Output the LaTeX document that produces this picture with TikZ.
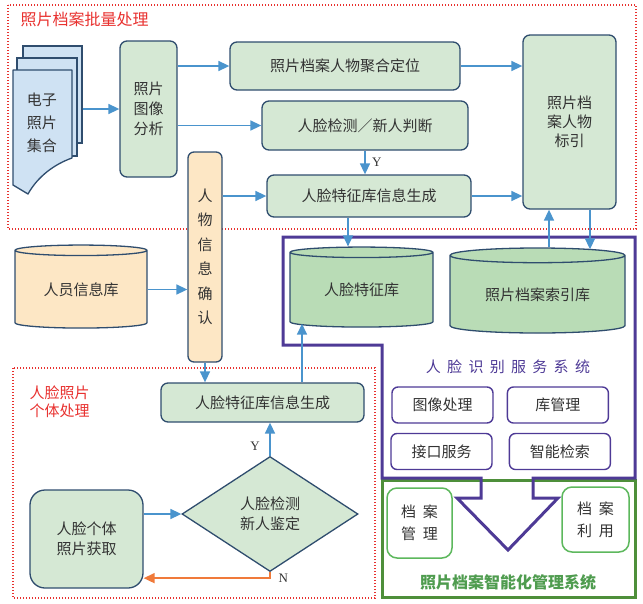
\documentclass[tikz,border=0pt]{standalone}
\usepackage{fontspec}
\setmainfont{Liberation Serif}
\newfontfamily\cjk{Noto Sans CJK SC}
\newfontfamily\cjkwide[LetterSpace=42]{Noto Sans CJK SC}
\usetikzlibrary{arrows.meta,positioning,calc,shapes.geometric}

\definecolor{edgeblue}{HTML}{2F4D6E}
\definecolor{boxgreen}{HTML}{D5E8D4}
\definecolor{dbgreen}{HTML}{B9DCB6}
\definecolor{docblue}{HTML}{CFE2F3}
\definecolor{paleorange}{HTML}{FDE7C5}
\definecolor{arrowblue}{HTML}{4A94CD}
\definecolor{arroworange}{HTML}{F07A3A}
\definecolor{dotred}{HTML}{E8312F}
\definecolor{svcpurple}{HTML}{4E3A96}
\definecolor{sysgreen}{HTML}{4E8F3A}
\definecolor{arcgreen}{HTML}{5DB85D}
\definecolor{txtgray}{HTML}{333333}

\tikzset{
  >={Triangle[length=11pt,width=10pt]},
  box/.style={rectangle, draw=edgeblue, line width=1.3pt, fill=boxgreen, rounded corners=7pt,
    text=txtgray, align=center, inner sep=0pt, font=\cjk\fontsize{15}{20}\selectfont},
  page/.style={rectangle, draw=edgeblue, line width=1.3pt, fill=docblue, inner sep=0pt},
  db/.style={cylinder, shape border rotate=90, shape aspect=0.14, draw=edgeblue, line width=1.3pt,
    text=txtgray, inner sep=0pt, font=\cjk\fontsize{15}{20}\selectfont},
  svcbox/.style={rectangle, draw=svcpurple, line width=1.4pt, fill=white, rounded corners=6pt,
    minimum width=101pt, minimum height=36pt, text=txtgray, inner sep=0pt, font=\cjk\fontsize{15}{20}\selectfont},
  arcbox/.style={rectangle, draw=arcgreen, line width=1.5pt, fill=white, rounded corners=10pt,
    text=txtgray, align=center, inner sep=0pt, font=\cjk\fontsize{15}{22}\selectfont},
  region/.style={draw=dotred, line width=1.3pt, dash pattern=on 1.4pt off 1.6pt},
  lbl/.style={font=\fontsize{13}{14}\selectfont, text=txtgray},
  arrow/.style={->, draw=arrowblue, line width=1.6pt},
  back/.style={->, draw=arroworange, line width=1.6pt}
}

\begin{document}
\begin{tikzpicture}[x=1pt, y=-1pt]
  \useasboundingbox (0,0) rectangle (643,603);

  % dotted regions
  \draw[region] (8,5) rectangle (636,229);
  \draw[region] (13,368) rectangle (375,598);
  \node[anchor=west, text=dotred, font=\cjk\fontsize{16}{18}\selectfont] (batchlbl) at (17,19) {照片档案批量处理};
  \node[anchor=west, text=dotred, align=left, font=\cjk\fontsize{15}{18}\selectfont] (singlelbl) at (26,402) {人脸照片\\个体处理};

  % management system frames
  \draw[draw=sysgreen, line width=3pt] (382,480) rectangle (635,597);
  \draw[draw=svcpurple, line width=3pt, line join=miter]
    (283,237) -- (635,237) -- (635,478) -- (533,478) -- (533,498) -- (558,498) -- (508,550)
    -- (457,498) -- (481,498) -- (481,478) -- (382,478) -- (382,345) -- (283,345) -- cycle;

  % photo stack
  \node[page, minimum width=59pt, minimum height=97pt] (pageC) at (52.5,94.5) {};
  \node[page, minimum width=60pt, minimum height=98pt] (pageB) at (47,107) {};
  \draw[draw=edgeblue, line width=1.3pt, fill=docblue, line join=round]
    (13,70) -- (72,70) -- (72,158) .. controls (55,164) and (38,176) .. (28,194) -- (13,185) -- cycle;
  \node[text=txtgray, align=center, font=\cjk\fontsize{15}{23}\selectfont] (photos) at (42,123) {电子\\照片\\集合};

  % batch processing
  \node[box, minimum width=57pt, minimum height=136pt] (ana) at (148.5,109) {照片\\图像\\分析};
  \node[box, minimum width=230pt, minimum height=48pt] (agg) at (345,66) {照片档案人物聚合定位};
  \node[box, minimum width=206pt, minimum height=49pt] (det) at (365,125.5) {人脸检测／新人判断};
  \node[box, minimum width=204pt, minimum height=42pt] (gen1) at (369,196) {人脸特征库信息生成};
  \node[box, minimum width=93pt, minimum height=174pt, font=\cjk\fontsize{15}{19}\selectfont] (idx) at (569.5,122) {照片档\\案人物\\标引};
  \node[box, fill=paleorange, rounded corners=6pt, minimum width=34pt, minimum height=210pt,
    font=\cjk\fontsize{15}{24.5}\selectfont] (confirm) at (205,257) {人\\物\\信\\息\\确\\认};

  % databases
  \node[db, fill=paleorange, minimum width=132pt, minimum height=83pt] (staffdb) at (81,289.5) {人员信息库};
  \node[db, fill=dbgreen, minimum width=143pt, minimum height=80pt] (facedb) at (361.5,290) {人脸特征库};
  \node[db, fill=dbgreen, minimum width=175pt, minimum height=85pt] (idxdb) at (537.5,294.5) {照片档案索引库};

  % recognition service
  \node[text=svcpurple, font=\cjkwide\fontsize{15}{18}\selectfont] (svclbl) at (508,367) {人脸识别服务系统};
  \node[svcbox] (imgproc) at (442.5,405) {图像处理};
  \node[svcbox, right=13pt of imgproc] (libmgr) {库管理};
  \node[svcbox] (iface) at (441.5,451.5) {接口服务};
  \node[svcbox, right=16pt of iface] (search) {智能检索};

  % archive system
  \node[arcbox, minimum width=65pt, minimum height=70pt] (armgr) at (419.5,523) {档\hspace{7pt}案\\管\hspace{7pt}理};
  \node[arcbox, minimum width=67pt, minimum height=65pt] (aruse) at (595.5,519.5) {档\hspace{7pt}案\\利\hspace{7pt}用};
  \node[text=arcgreen!85!black, font=\cjk\bfseries\fontsize{16}{18}\selectfont] (syslbl) at (508,582) {照片档案智能化管理系统};

  % single photo processing
  \node[box, minimum width=203pt, minimum height=39pt] (gen2) at (262.5,402.5) {人脸特征库信息生成};
  \node[box, diamond, aspect=1.53, rounded corners=0pt, minimum width=176pt, minimum height=115pt] (dia) at (270,514) {人脸检测\\新人鉴定};
  \node[box, rounded corners=15pt, minimum width=113pt, minimum height=98pt] (indiv) at (86.5,539) {人脸个体\\照片获取};

  % connectors, batch part
  \draw[arrow] (pageC.east |- ana.west) -- (ana.west);
  \draw[arrow] (ana.east |- agg.west) -- (agg.west);
  \draw[arrow] (ana.east |- det.west) -- (det.west);
  \draw[arrow] (confirm.east |- gen1.west) -- (gen1.west);
  \draw[arrow] (agg.east) -- (agg.east -| idx.west);
  \draw[arrow] (det.south) -- node[lbl, right=3pt] {Y} (det.south |- gen1.north);
  \draw[arrow] (gen1.east) -- (gen1.east -| idx.west);
  \draw[arrow] ([xshift=-21pt]gen1.south) -- ([xshift=-21pt]gen1.south |- facedb.north);
  \draw[arrow] ([xshift=11.5pt]idxdb.north) -- ([xshift=11.5pt]idxdb.north |- idx.south);
  \draw[arrow] ([xshift=20.5pt]idx.south) -- ([xshift=20.5pt,yshift=-2pt]idx.south |- idxdb.north);
  \draw[arrow] (staffdb.east) -- (staffdb.east -| confirm.west);

  % connectors, single part
  \draw[arrow] (confirm.south) -- (confirm.south |- gen2.north);
  \draw[arrow] ([xshift=39.5pt]gen2.north) -- ([xshift=39.5pt,yshift=4pt]gen2.north |- facedb.south);
  \draw[arrow] (indiv.east |- dia.west) -- (dia.west);
  \draw[arrow] (dia.north) -- node[lbl, left=6pt, pos=0.3] {Y} (dia.north |- gen2.south);
  \draw[back] (dia.south) -- ++(0,6) coordinate (nturn) -- (nturn -| indiv.east);
  \node[lbl, right=5pt of nturn] (nlbl) {N};
\end{tikzpicture}
\end{document}
